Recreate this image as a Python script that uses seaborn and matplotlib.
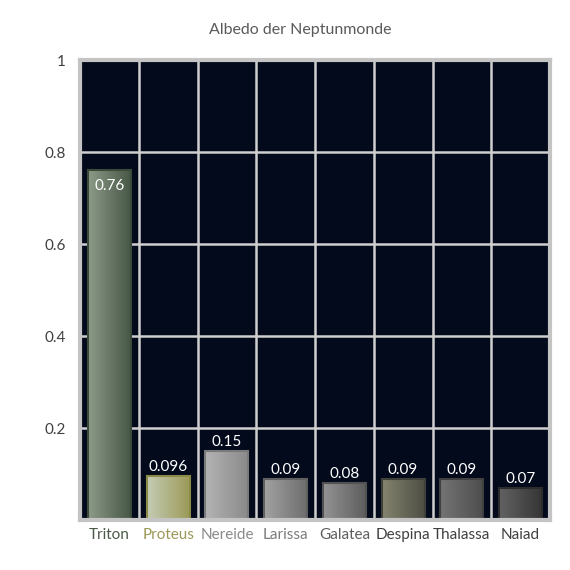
import numpy as np
import pandas as pd
import seaborn as sns
import matplotlib.pyplot as plt
from matplotlib.colors import LinearSegmentedColormap

# Daten
monde = ["Triton", "Proteus", "Nereide", "Larissa", "Galatea", "Despina", "Thalassa", "Naiad"]
albedo = [0.76, 0.096, 0.15, 0.09, 0.08, 0.09, 0.09, 0.07]
labels = ["0.76", "0.096", "0.15", "0.09", "0.08", "0.09", "0.09", "0.07"]

# Farbverlauf je Balken (links hell, rechts dunkel)
hell = ["#8c9a88", "#c4ccb4", "#b4b4b4", "#a2a2a2", "#939393", "#84846f", "#747474", "#626262"]
dunkel = ["#485846", "#9c9a58", "#8a8a8a", "#6e6e6e", "#5e5e5e", "#4e4e44", "#4e4e4e", "#363636"]
rand = ["#3c4a3a", "#8c8a48", "#7a7a7a", "#606060", "#525252", "#40403a", "#404040", "#2c2c2c"]
tick_farben = ["#4b5a48", "#9a9858", "#8a8a8a", "#7c7c7c", "#5e5e5e", "#404040", "#404040", "#404040"]

df = pd.DataFrame({"mond": monde, "albedo": albedo})

sns.set_style("white")
plt.rcParams["font.family"] = ["Lato", "DejaVu Sans"]

fig = plt.figure(figsize=(5.7, 5.7), dpi=100)
ax = fig.add_axes([80 / 570, 1 - 520 / 570, 470 / 570, 460 / 570])
ax.set_facecolor("#020a1c")

sns.barplot(data=df, x="mond", y="albedo", hue="mond", palette=dunkel,
            width=0.73, legend=False, ax=ax, zorder=3)

# Gradient in die Balken
for i, bar in enumerate(ax.patches):
    x0, y0 = bar.get_x(), bar.get_y()
    w, h = bar.get_width(), bar.get_height()
    cmap = LinearSegmentedColormap.from_list("g", [hell[i], dunkel[i]])
    grad = np.linspace(0, 1, 100).reshape(1, -1)
    im = ax.imshow(grad, cmap=cmap, extent=[x0, x0 + w, y0, y0 + h],
                   aspect="auto", zorder=3.5)
    im.set_clip_path(bar)
    bar.set_edgecolor(rand[i])
    bar.set_linewidth(1.5)
    bar.set_zorder(4)
    bar.set_facecolor("none")

ax.set_aspect("auto")
ax.set_xlim(-0.5, len(monde) - 0.5)
ax.set_ylim(0, 1)

# Beschriftungen
for i, (v, t) in enumerate(zip(albedo, labels)):
    if v > 0.5:
        ax.text(i, v - 0.033, t, ha="center", va="center", color="white", fontsize=11, zorder=6)
    else:
        ax.text(i, v + 0.004, t, ha="center", va="bottom", color="white", fontsize=11, zorder=6)

# Gitter
for y in [0.2, 0.4, 0.6, 0.8]:
    ax.axhline(y, color="#cfcfcf", lw=1.8, zorder=1)
for x in np.arange(0.5, len(monde) - 0.5, 1):
    ax.axvline(x, color="#cfcfcf", lw=1.8, zorder=1)

ax.set_yticks([0.2, 0.4, 0.6, 0.8, 1.0])
ax.set_yticklabels(["0.2", "0.4", "0.6", "0.8", "1"])
ax.tick_params(axis="y", length=0, pad=10, labelsize=11, labelcolor="#404040")
ax.tick_params(axis="x", length=0, pad=6, labelsize=11)
for lbl, c in zip(ax.get_xticklabels(), tick_farben):
    lbl.set_color(c)

for s in ax.spines.values():
    s.set_visible(True)
    s.set_color("#c4c4c4")
    s.set_linewidth(3)
    s.set_zorder(7)

ax.set_xlabel("")
ax.set_ylabel("")
fig.text(300 / 570, 1 - 30 / 570, "Albedo der Neptunmonde", ha="center", va="center",
         fontsize=11.5, color="#5a5a5a")

fig.savefig("out.png", dpi=100)
